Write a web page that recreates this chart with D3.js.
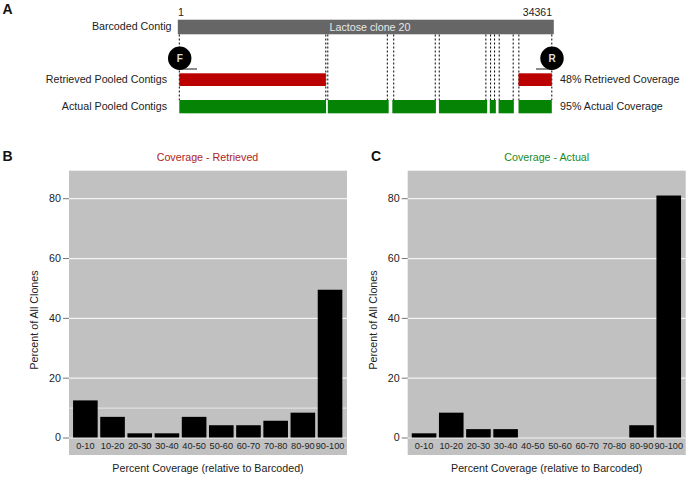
<!DOCTYPE html>
<html>
<head>
<meta charset="utf-8">
<script src="https://cdn.jsdelivr.net/npm/d3@7"></script>
<style>
  html, body { margin: 0; padding: 0; background: #fff; }
  svg { display: block; }
  text { font-family: "Liberation Sans", Arial, sans-serif; fill: #222; }
</style>
</head>
<body>
<div id="chart"></div>
<script>
// contig positions in bp
var contig_length = 34361;
var retrieved_segments = [[1, 13520], [31290, 34361]];
var actual_segments = [[1, 13540], [13700, 19315], [19650, 23670], [23950, 28400],
                       [28640, 29200], [29450, 30860], [31290, 34361]];
var gap_edges = [1, 13515, 13700, 19190, 19780, 23610, 23980, 28280, 28715, 29080,
                 29510, 30800, 31325, 34361];

// histogram values, percent of all clones
var bins = ["0-10", "10-20", "20-30", "30-40", "40-50", "50-60", "60-70", "70-80", "80-90", "90-100"];
var retrieved_values = [12.4, 6.9, 1.4, 1.4, 6.9, 4.1, 4.1, 5.6, 8.3, 49.4];
var actual_values = [1.4, 8.3, 2.8, 2.8, 0, 0, 0, 0, 4.1, 80.9];
var retrieved_grid = [0, 10, 20, 40, 60, 80];
var actual_grid = [0, 20, 40, 60, 80];
var y_ticks = [0, 20, 40, 60, 80];

var svg = d3.select("#chart").append("svg")
    .attr("width", 689)
    .attr("height", 478);

function label(x, y, str, size, anchor, color, weight) {
  return svg.append("text")
      .attr("x", x)
      .attr("y", y)
      .attr("text-anchor", anchor || "start")
      .attr("font-size", size)
      .attr("font-weight", weight || "normal")
      .style("fill", color || "#222")
      .text(str);
}

// ---- panel A
var x_bp = d3.scaleLinear().domain([1, contig_length]).range([179.3, 551.8]);

svg.append("rect")
    .attr("x", x_bp(1) - 1.5)
    .attr("y", 19.7)
    .attr("width", x_bp(contig_length) - x_bp(1) + 3.5)
    .attr("height", 14.6)
    .attr("fill", "#666");

label(370, 31, "Lactose clone 20", 10.7, "middle", "#e6e6e6");
label(178, 15.5, "1", 10.7);
label(552, 16, "34361", 10.5, "end");
label(171.5, 30, "Barcoded Contig", 10.7, "end");
label(167, 83, "Retrieved Pooled Contigs", 10.7, "end");
label(167, 110, "Actual Pooled Contigs", 10.7, "end");
label(560, 83, "48% Retrieved Coverage", 10.7);
label(560, 110, "95% Actual Coverage", 10.7);

svg.append("g").selectAll("line")
    .data(gap_edges)
  .enter().append("line")
    .attr("x1", function(d) { return x_bp(d); })
    .attr("x2", function(d) { return x_bp(d); })
    .attr("y1", 34.5)
    .attr("y2", 100)
    .attr("stroke", "#000")
    .attr("stroke-width", 1)
    .attr("stroke-dasharray", "2,2");

function segments(data, y, h, color) {
  svg.append("g").selectAll("rect")
      .data(data)
    .enter().append("rect")
      .attr("x", function(d) { return x_bp(d[0]); })
      .attr("y", y)
      .attr("width", function(d) { return x_bp(d[1]) - x_bp(d[0]); })
      .attr("height", h)
      .attr("fill", color);
}
segments(retrieved_segments, 73.3, 12.7, "#bb0000");
segments(actual_segments, 100, 13.3, "#058305");

// primers
function primer(x1, x2, x_c, str) {
  svg.append("line")
      .attr("x1", x1).attr("x2", x2)
      .attr("y1", 69).attr("y2", 69)
      .attr("stroke", "#666")
      .attr("stroke-width", 1.5);
  svg.append("circle")
      .attr("cx", x_c)
      .attr("cy", 58.3)
      .attr("r", 11.7)
      .attr("fill", "#000");
  label(x_c, 62, str, 10, "middle", "#ddd", "bold");
}
primer(x_bp(1), 197, 179.7, "F");
primer(536, x_bp(contig_length), 552, "R");

// ---- panels B and C
var y_scale = d3.scaleLinear().domain([-5.85, 89.2]).range([455, 170.7]);

function histogram(left, values, grid) {
  var right = left + 278;
  var x_scale = d3.scaleBand()
      .domain(bins)
      .range([left + 2.7, right - 3.3])
      .paddingInner(0.095)
      .paddingOuter(0.05);

  svg.append("rect")
      .attr("x", left)
      .attr("y", 170.7)
      .attr("width", right - left)
      .attr("height", 284.3)
      .attr("fill", "#c1c1c1");

  // white grid lines, drawn with the axis tick lines
  var grid_g = svg.append("g")
      .attr("transform", "translate(" + left + ",0)")
      .call(d3.axisRight(y_scale).tickValues(grid).tickSize(right - left).tickFormat(""));
  grid_g.select(".domain").remove();
  grid_g.selectAll("line")
      .attr("stroke", "#f4f4f4")
      .attr("stroke-width", function(d) { return d == 10 ? 0.8 : 1.2; });

  svg.append("g").selectAll("rect")
      .data(values)
    .enter().append("rect")
      .attr("x", function(d, i) { return x_scale(bins[i]); })
      .attr("y", function(d) { return y_scale(d); })
      .attr("width", x_scale.bandwidth())
      .attr("height", function(d) { return y_scale(0) - y_scale(d); })
      .attr("fill", "#000");

  var y_axis = svg.append("g")
      .attr("transform", "translate(" + left + ",0)")
      .call(d3.axisLeft(y_scale).tickValues(y_ticks).tickSize(6).tickPadding(2));
  y_axis.select(".domain").remove();
  y_axis.selectAll("line").attr("stroke", "#777");
  y_axis.selectAll("text")
      .attr("font-size", 10.7)
      .attr("font-family", "Liberation Sans, Arial, sans-serif");

  var x_axis = svg.append("g")
      .attr("transform", "translate(0," + y_scale(0) + ")")
      .call(d3.axisBottom(x_scale).tickSize(0).tickPadding(5));
  x_axis.select(".domain").remove();
  x_axis.selectAll("text")
      .attr("font-size", 9.2)
      .attr("font-family", "Liberation Sans, Arial, sans-serif");

  label(left + 139, 472, "Percent Coverage (relative to Barcoded)", 10.7, "middle");

  svg.append("text")
      .attr("transform", "translate(" + (left - 31) + ",320) rotate(-90)")
      .attr("text-anchor", "middle")
      .attr("font-size", 10.7)
      .text("Percent of All Clones");
}

histogram(69, retrieved_values, retrieved_grid);
histogram(407.7, actual_values, actual_grid);

label(207.5, 160.5, "Coverage - Retrieved", 10.7, "middle", "#b01c1c");
label(546.7, 160.5, "Coverage - Actual", 10.7, "middle", "#1c8a1c");

label(2.5, 14, "A", 14, "start", "#111", "bold");
label(2.5, 161, "B", 14, "start", "#111", "bold");
label(371, 161, "C", 14, "start", "#111", "bold");
</script>
</body>
</html>
